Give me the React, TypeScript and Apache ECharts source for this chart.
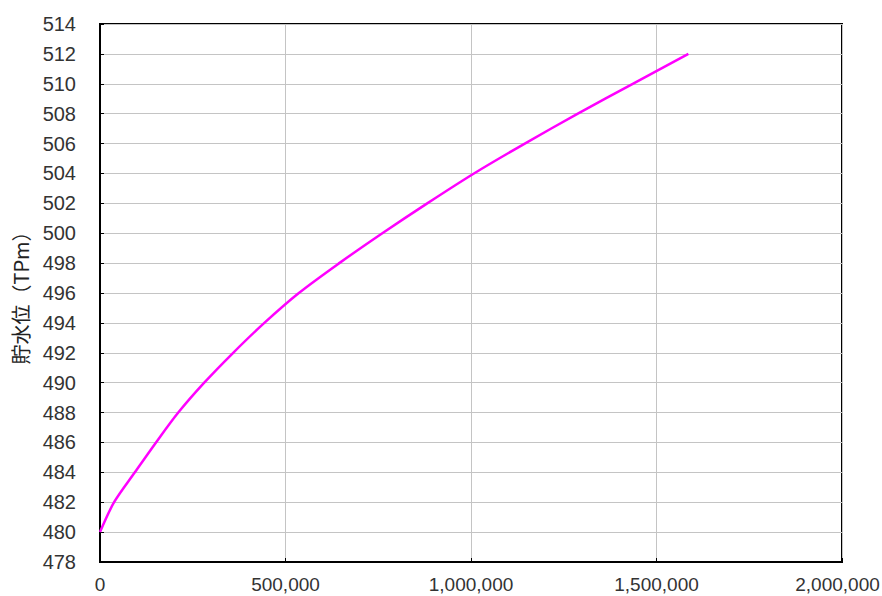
import React, { useEffect, useRef } from "react";
import * as echarts from "echarts";

const volumes = [0, 38000, 94000, 151000, 211000, 281000, 359000, 443000, 536000, 645000, 761000, 882000, 1008000, 1145000, 1288000, 1436000, 1586000];
const levels = [480, 482, 484, 486, 488, 490, 492, 494, 496, 498, 500, 502, 504, 506, 508, 510, 512];
const yAxisName = "貯水位（TPm）";

export default function App() {
  const ref = useRef<HTMLDivElement>(null);
  useEffect(() => {
    if (!ref.current) return;
    const chart = echarts.init(ref.current, undefined, { renderer: "svg" });
    const data = volumes.map((v, i) => [v, levels[i]]);
    const labelFont = "Liberation Sans, Arial, sans-serif";
    chart.setOption({
      animation: false,
      backgroundColor: "#fff",
      grid: {
        left: 100, right: 40, top: 24, bottom: 34,
        containLabel: false,
        outerBoundsMode: "none",
        show: true, borderColor: "#000", borderWidth: 2, backgroundColor: "transparent",
      },
      xAxis: {
        type: "value",
        min: 0,
        max: 2000000,
        interval: 500000,
        axisLine: { show: true, lineStyle: { color: "#000", width: 2 } },
        axisTick: { show: true, inside: true, length: 4, lineStyle: { color: "#000" } },
        splitLine: { show: true, lineStyle: { color: "#c4c4c4", width: 1 } },
        axisLabel: {
          margin: 13,
          color: "#333",
          fontSize: 19,
          fontFamily: labelFont,
          hideOverlap: false,
          formatter: (v: number) =>
            v === 2000000 ? "{last|" + v.toLocaleString("en-US") + "}" : v.toLocaleString("en-US"),
          rich: {
            last: { fontSize: 19, fontFamily: labelFont, color: "#333", padding: [0, 9, 0, 0] },
          },
        },
      },
      yAxis: {
        type: "value",
        min: 478,
        max: 514,
        interval: 2,
        name: yAxisName,
        nameLocation: "middle",
        nameRotate: 90,
        nameGap: 70,
        nameTextStyle: { fontSize: 20, color: "#222", fontFamily: "Noto Sans CJK JP, sans-serif" },
        axisLine: { show: true, lineStyle: { color: "#000", width: 2 } },
        axisTick: { show: true, inside: true, length: 4, lineStyle: { color: "#000" } },
        splitLine: { show: true, lineStyle: { color: "#c4c4c4", width: 1 } },
        axisLabel: {
          margin: 24,
          color: "#333",
          fontSize: 20,
          fontFamily: labelFont,
        },
      },
      series: [
        {
          type: "line",
          data,
          smooth: 0.3,
          showSymbol: false,
          lineStyle: { color: "#ff00ff", width: 2.5 },
        },
      ],
    });
    return () => chart.dispose();
  }, []);
  return <div ref={ref} style={{ position: "fixed", left: 0, top: 0, width: 882, height: 596 }} />;
}
